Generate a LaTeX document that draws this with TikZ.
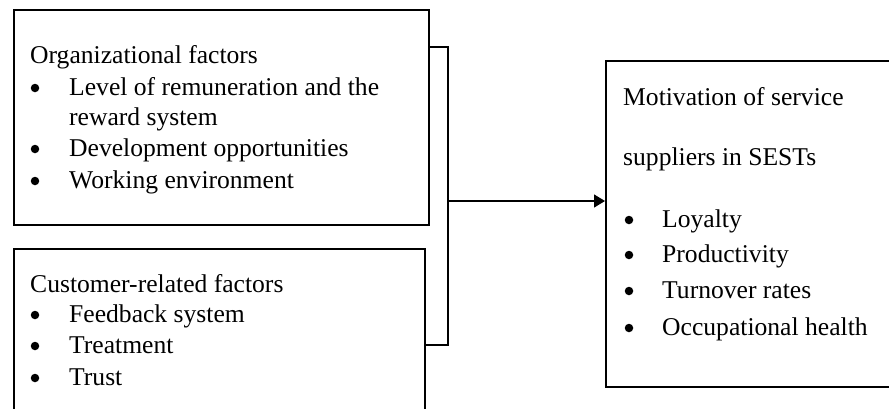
\documentclass[tikz,border=0pt]{standalone}
\usepackage{fontspec}
\setmainfont{Liberation Serif}
\usetikzlibrary{positioning,arrows.meta}
\tikzset{
  box/.style={draw,line width=1.5pt,rectangle,inner sep=0pt,anchor=north west},
  txt/.style={anchor=base west,inner sep=0pt,font=\fontsize{25.6}{31}\selectfont},
  dot/.style={circle,fill,inner sep=0pt,minimum size=8.5pt},
  link/.style={line width=1.3pt}
}

\begin{document}
\begin{tikzpicture}[x=1pt,y=-1pt]
\useasboundingbox (0,0) rectangle (889,408);
\clip (0,0) rectangle (889,408);

% boxes
\node[box,minimum width=415pt,minimum height=215pt] (org) at (13,9) {};
\node[box,minimum width=411pt,minimum height=200pt] (cust) at (13,248) {};
\node[box,minimum width=300pt,minimum height=326pt] (mot) at (605,60) {};

% organizational factors
\node[txt] (orgtitle) at (30,63) {Organizational factors};
\node[dot] (orgdot1) at (35,88) {};
\node[txt] (orgitem1) at (69,95) {Level of remuneration and the};
\node[txt] (orgitem1b) at (69,125) {reward system};
\node[dot] (orgdot2) at (35,149) {};
\node[txt] (orgitem2) at (69,156) {Development opportunities};
\node[dot] (orgdot3) at (35,181) {};
\node[txt] (orgitem3) at (69,188) {Working environment};

% customer-related factors
\node[txt] (custtitle) at (30,292) {Customer-related factors};
\node[dot] (custdot1) at (35,315) {};
\node[txt] (custitem1) at (69,322) {Feedback system};
\node[dot] (custdot2) at (35,346) {};
\node[txt] (custitem2) at (69,353) {Treatment};
\node[dot] (custdot3) at (35,378) {};
\node[txt] (custitem3) at (69,385) {Trust};

% motivation
\node[txt] (mottitle) at (623,105) {Motivation of service};
\node[txt] (mottitleb) at (623,165) {suppliers in SESTs};
\node[dot] (motdot1) at (629,220) {};
\node[txt] (motitem1) at (662,227) {Loyalty};
\node[dot] (motdot2) at (629,255) {};
\node[txt] (motitem2) at (662,262) {Productivity};
\node[dot] (motdot3) at (629,291) {};
\node[txt] (motitem3) at (662,298) {Turnover rates};
\node[dot] (motdot4) at (629,328) {};
\node[txt] (motitem4) at (662,335) {Occupational health};

% connector
\coordinate (jtop) at (448,47);
\coordinate (jmid) at (448,201);
\coordinate (jbot) at (448,345);
\draw[link] (org.east |- jtop) -- (jtop) -- (jbot) -- (cust.east |- jbot);
\draw[link,-{Triangle[length=11pt,width=13pt]}] (jmid) -- (jmid -| mot.west);
\end{tikzpicture}
\end{document}
